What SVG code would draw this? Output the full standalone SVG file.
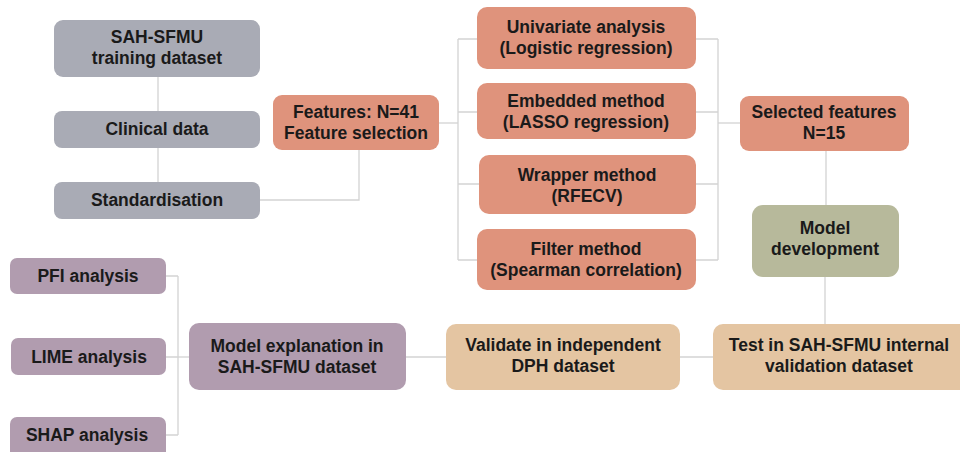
<svg xmlns="http://www.w3.org/2000/svg" width="960" height="452" viewBox="0 0 960 452">
<style>
text{font-family:"Liberation Sans",Arial,sans-serif;font-weight:bold;font-size:17.5px;fill:#1a1a1a;text-anchor:middle}
.gray{fill:#a9abb5}
.sal{fill:#df937c}
.pur{fill:#b19caf}
.tan{fill:#e4c5a2}
.olv{fill:#b7b99b}
.conn path{fill:none;stroke:#d3d3d3;stroke-width:1.3}
</style>
<rect width="960" height="452" fill="#ffffff"/>
<g class="conn" id="connectors">
<path d="M158,77 V111"/>
<path d="M158,148 V182"/>
<path d="M260,200 H359 V150"/>
<path d="M439,123 H458"/>
<path d="M458,39 V260"/>
<path d="M458,39 H477 M458,112 H477 M458,184 H479 M458,260 H477"/>
<path d="M696,39 H718 M696,112 H718 M696,184 H718 M696,260 H718"/>
<path d="M718,39 V260"/>
<path d="M718,123 H740"/>
<path d="M826,151 V205"/>
<path d="M825,277 V324"/>
<path d="M680,357 H713"/>
<path d="M406,357 H446"/>
<path d="M178,357 H189"/>
<path d="M178,276 V435"/>
<path d="M166,276 H178 M166,357 H178 M166,435 H178"/>
</g>
<g id="sah"><rect class="gray" x="54" y="20" width="206" height="57" rx="9"/><text x="157" y="43">SAH-SFMU</text><text x="157" y="64">training dataset</text></g>
<g id="clinical"><rect class="gray" x="54" y="111" width="206" height="37" rx="8"/><text x="157" y="135">Clinical data</text></g>
<g id="standardisation"><rect class="gray" x="54" y="182" width="206" height="37" rx="8"/><text x="157" y="206">Standardisation</text></g>
<g id="features"><rect class="sal" x="273" y="95" width="166" height="55" rx="9"/><text x="356" y="118">Features: N=41</text><text x="356" y="139">Feature selection</text></g>
<g id="univariate"><rect class="sal" x="477" y="7" width="219" height="62" rx="10"/><text x="586" y="33">Univariate analysis</text><text x="586" y="54">(Logistic regression)</text></g>
<g id="embedded"><rect class="sal" x="477" y="83" width="219" height="56" rx="10"/><text x="586" y="107">Embedded method</text><text x="586" y="128">(LASSO regression)</text></g>
<g id="wrapper"><rect class="sal" x="479" y="155" width="217" height="59" rx="10"/><text x="587" y="181">Wrapper method</text><text x="587" y="202">(RFECV)</text></g>
<g id="filter"><rect class="sal" x="477" y="229" width="219" height="61" rx="10"/><text x="586" y="255">Filter method</text><text x="586" y="276">(Spearman correlation)</text></g>
<g id="selected"><rect class="sal" x="740" y="96" width="169" height="55" rx="9"/><text x="824" y="118">Selected features</text><text x="824" y="139">N=15</text></g>
<g id="model"><rect class="olv" x="752" y="205" width="147" height="72" rx="11"/><text x="825" y="234">Model</text><text x="825" y="255">development</text></g>
<g id="test"><rect class="tan" x="713" y="324" width="256" height="66" rx="10"/><text x="839" y="351">Test in SAH-SFMU internal</text><text x="839" y="372">validation dataset</text></g>
<g id="validate"><rect class="tan" x="446" y="324" width="234" height="66" rx="10"/><text x="563" y="351">Validate in independent</text><text x="563" y="372">DPH dataset</text></g>
<g id="explain"><rect class="pur" x="189" y="323" width="217" height="67" rx="10"/><text x="297" y="352">Model explanation in</text><text x="297" y="373">SAH-SFMU dataset</text></g>
<g id="pfi"><rect class="pur" x="10" y="258" width="156" height="36" rx="7"/><text x="88" y="282">PFI analysis</text></g>
<g id="lime"><rect class="pur" x="11" y="338" width="155" height="37" rx="7"/><text x="89" y="363">LIME analysis</text></g>
<g id="shap"><rect class="pur" x="10" y="417" width="156" height="44" rx="7"/><text x="87" y="441">SHAP analysis</text></g>
</svg>
